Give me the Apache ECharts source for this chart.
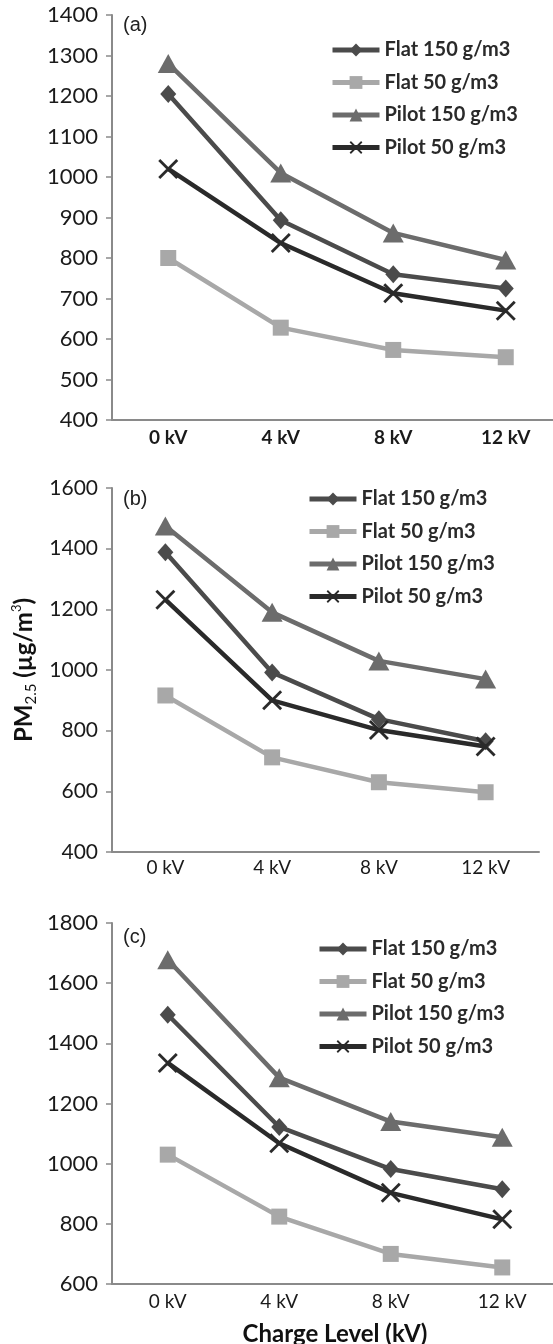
<!DOCTYPE html>
<html>
<head>
<meta charset="utf-8">
<script src="https://cdn.jsdelivr.net/npm/echarts@6/dist/echarts.min.js"></script>
<style>
  html, body { margin: 0; padding: 0; background: #fff; }
  #chart { width: 553px; height: 1344px; }
</style>
</head>
<body>
<div id="chart"></div>
<script>
  // categories and series names shared by the three panels
  var categories = ["0 kV", "4 kV", "8 kV", "12 kV"];
  var seriesNames = ["Flat 150 g/m3", "Flat 50 g/m3", "Pilot 150 g/m3", "Pilot 50 g/m3"];

  // panel (a)
  var aFlat150 = [1205, 893, 760, 725];
  var aFlat50 = [800, 628, 573, 555];
  var aPilot150 = [1280, 1010, 862, 795];
  var aPilot50 = [1020, 837, 713, 670];
  // panel (b)
  var bFlat150 = [1388, 992, 838, 765];
  var bFlat50 = [916, 712, 630, 597];
  var bPilot150 = [1475, 1190, 1030, 970];
  var bPilot50 = [1232, 900, 802, 748];
  // panel (c)
  var cFlat150 = [1495, 1122, 982, 915];
  var cFlat50 = [1030, 824, 700, 655];
  var cPilot150 = [1678, 1286, 1140, 1088];
  var cPilot50 = [1335, 1068, 903, 815];

  // y axis ranges
  var yMin = [400, 400, 600];
  var yMax = [1400, 1600, 1800];
  var yStep = [100, 200, 200];

  var colors = ["#4b4b4b", "#a8a8a8", "#6c6c6c", "#2a2a2a"];
  var crossPath = "path://M0,1L1,0L10,9L9,10Z M9,0L10,1L1,10L0,9Z";
  var symbols = ["diamond", "rect", "triangle", crossPath];
  var symbolSizes = [[16, 18], 16, [21, 19], 20];

  var panels = [
    [aFlat150, aFlat50, aPilot150, aPilot50],
    [bFlat150, bFlat50, bPilot150, bPilot50],
    [cFlat150, cFlat50, cPilot150, cPilot50]
  ];

  var axisColor = "#8a8a8a";
  var font = "Lato";

  function makeSeries() {
    var out = [];
    panels.forEach(function(p, pi) {
      p.forEach(function(vals, si) {
        out.push({
          name: seriesNames[si],
          type: "line",
          xAxisIndex: pi,
          yAxisIndex: pi,
          data: vals,
          symbol: symbols[si],
          symbolSize: symbolSizes[si],
          symbolKeepAspect: true,
          showAllSymbol: true,
          lineStyle: { color: colors[si], width: 4.5 },
          itemStyle: { color: colors[si] },
          emphasis: { disabled: true },
          z: 2 + si
        });
      });
    });
    return out;
  }

  function legendAt(left, top) {
    return {
      orient: "vertical",
      left: left,
      top: top,
      itemWidth: 47,
      itemHeight: 16,
      itemGap: 12.5,
      data: seriesNames,
      selectedMode: false,
      lineStyle: { width: 5 },
      textStyle: { fontFamily: font, fontSize: 20, fontWeight: "bold", color: "#2a2a2a", lineHeight: 20 }
    };
  }

  var titleStyle = { fontFamily: "Liberation Sans", fontSize: 20, fontWeight: "normal", color: "#222" };

  var chart = echarts.init(document.getElementById("chart"));
  chart.setOption({
    animation: false,
    title: [
      { text: "(a)", left: 118, top: 10, textStyle: titleStyle },
      { text: "(b)", left: 118, top: 484, textStyle: titleStyle },
      { text: "(c)", left: 118, top: 922, textStyle: titleStyle }
    ],
    legend: [legendAt(325, 35), legendAt(302, 484), legendAt(312, 934)],
    grid: [
      { left: 112, top: 15, width: 450, height: 405, outerBoundsMode: "none", containLabel: false },
      { left: 112, top: 488, width: 427, height: 364, outerBoundsMode: "none", containLabel: false },
      { left: 112, top: 923, width: 446, height: 361, outerBoundsMode: "none", containLabel: false }
    ],
    xAxis: [0, 1, 2].map(function(i) {
      return {
        type: "category",
        gridIndex: i,
        data: categories,
        boundaryGap: true,
        axisLine: { lineStyle: { color: axisColor, width: 2 } },
        axisTick: { show: false },
        axisLabel: {
          fontFamily: font,
          fontSize: 19,
          fontWeight: i === 0 ? "bold" : "normal",
          color: "#1a1a1a",
          margin: i === 1 ? 6 : 8
        },
        name: i === 2 ? "Charge Level (kV)" : "",
        nameLocation: "middle",
        nameGap: 38,
        nameTextStyle: { fontFamily: font, fontSize: 24, fontWeight: "bold", color: "#111" }
      };
    }),
    yAxis: [0, 1, 2].map(function(i) {
      return {
        type: "value",
        gridIndex: i,
        min: yMin[i],
        max: yMax[i],
        interval: yStep[i],
        splitLine: { show: false },
        axisLine: { show: true, lineStyle: { color: axisColor, width: 2 } },
        axisTick: { show: true, length: 6, lineStyle: { color: axisColor, width: 1.5 } },
        axisLabel: {
          fontFamily: font,
          fontSize: i === 1 ? 21 : 22,
          color: "#1a1a1a",
          margin: 14,
          formatter: function(v) { return String(v); }
        },
        name: i === 1 ? "{m|PM}{s|2.5}{m| (µg/m}{p|3}{m|)}" : "",
        nameLocation: "middle",
        nameRotate: 90,
        nameGap: 65,
        nameTextStyle: {
          rich: {
            m: { fontFamily: font, fontSize: 24, fontWeight: "bold", color: "#111", lineHeight: 28 },
            s: { fontFamily: font, fontSize: 15, color: "#111", verticalAlign: "bottom", lineHeight: 15 },
            p: { fontFamily: font, fontSize: 13, color: "#111", verticalAlign: "top", lineHeight: 13 }
          }
        }
      };
    }),
    series: makeSeries()
  });
</script>
</body>
</html>
